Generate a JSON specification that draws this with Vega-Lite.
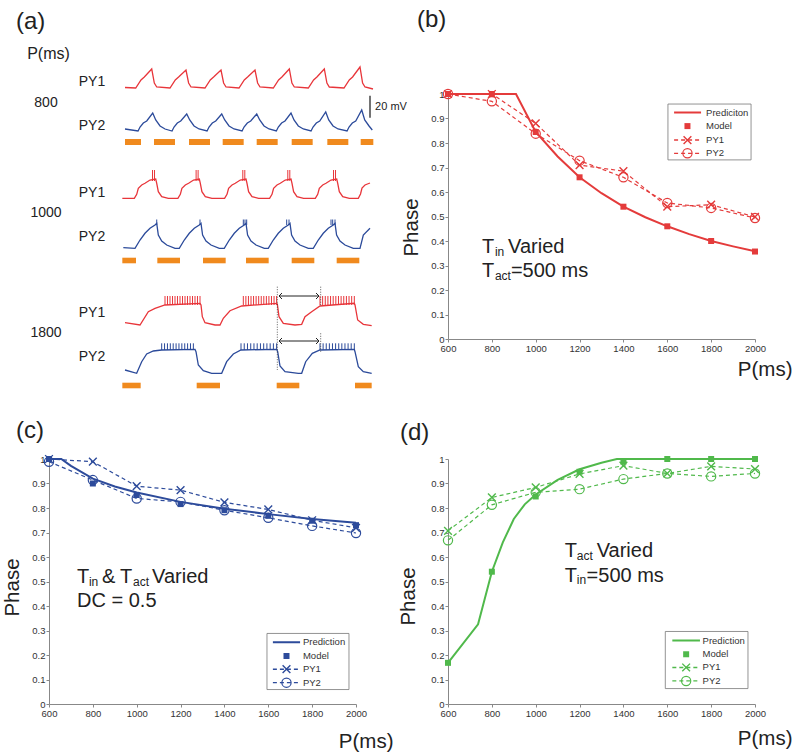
{
"$schema": "https://vega.github.io/schema/vega-lite/v6.json",
"background": "white",
"padding": {"left": 2, "top": 8, "right": 0, "bottom": 0},
"columns": 2,
"bounds": "flush",
"spacing": {"row": 120, "column": 92},
"datasets": {
"traces": [
{"k":"a1","c":"PY1","t":0,"v":251.5},{"k":"a1","c":"PY1","t":268,"v":251},{"k":"a1","c":"PY1","t":400,"v":259},{"k":"a1","c":"PY1","t":483,"v":262},{"k":"a1","c":"PY1","t":668,"v":270},{"k":"a1","c":"PY1","t":733,"v":256},{"k":"a1","c":"PY1","t":793,"v":252},
{"k":"a1","c":"PY1","t":1125,"v":251},{"k":"a1","c":"PY1","t":1257,"v":259},{"k":"a1","c":"PY1","t":1340,"v":262},{"k":"a1","c":"PY1","t":1525,"v":269},{"k":"a1","c":"PY1","t":1590,"v":256},{"k":"a1","c":"PY1","t":1650,"v":252},
{"k":"a1","c":"PY1","t":2000,"v":251},{"k":"a1","c":"PY1","t":2132,"v":259},{"k":"a1","c":"PY1","t":2215,"v":262},{"k":"a1","c":"PY1","t":2400,"v":269},{"k":"a1","c":"PY1","t":2465,"v":256},{"k":"a1","c":"PY1","t":2525,"v":252},
{"k":"a1","c":"PY1","t":2850,"v":251},{"k":"a1","c":"PY1","t":2982,"v":259},{"k":"a1","c":"PY1","t":3065,"v":262},{"k":"a1","c":"PY1","t":3250,"v":269},{"k":"a1","c":"PY1","t":3315,"v":256},{"k":"a1","c":"PY1","t":3375,"v":252},
{"k":"a1","c":"PY1","t":3708,"v":251},{"k":"a1","c":"PY1","t":3840,"v":259},{"k":"a1","c":"PY1","t":3923,"v":262},{"k":"a1","c":"PY1","t":4108,"v":270},{"k":"a1","c":"PY1","t":4173,"v":256},{"k":"a1","c":"PY1","t":4233,"v":252},
{"k":"a1","c":"PY1","t":4583,"v":251},{"k":"a1","c":"PY1","t":4715,"v":259},{"k":"a1","c":"PY1","t":4798,"v":262},{"k":"a1","c":"PY1","t":4983,"v":270},{"k":"a1","c":"PY1","t":5048,"v":256},{"k":"a1","c":"PY1","t":5108,"v":252},
{"k":"a1","c":"PY1","t":5475,"v":251},{"k":"a1","c":"PY1","t":5607,"v":259},{"k":"a1","c":"PY1","t":5690,"v":262},{"k":"a1","c":"PY1","t":5875,"v":272},{"k":"a1","c":"PY1","t":5940,"v":256},{"k":"a1","c":"PY1","t":6000,"v":252},{"k":"a1","c":"PY1","t":6200,"v":250},
{"k":"a2","c":"PY2","t":0,"v":210},{"k":"a2","c":"PY2","t":326,"v":208},{"k":"a2","c":"PY2","t":376,"v":212},{"k":"a2","c":"PY2","t":458,"v":216},{"k":"a2","c":"PY2","t":543,"v":218},{"k":"a2","c":"PY2","t":693,"v":226},{"k":"a2","c":"PY2","t":768,"v":219},{"k":"a2","c":"PY2","t":876,"v":213},{"k":"a2","c":"PY2","t":1001,"v":210},
{"k":"a2","c":"PY2","t":1176,"v":208},{"k":"a2","c":"PY2","t":1226,"v":212},{"k":"a2","c":"PY2","t":1308,"v":216},{"k":"a2","c":"PY2","t":1393,"v":218},{"k":"a2","c":"PY2","t":1543,"v":225},{"k":"a2","c":"PY2","t":1618,"v":219},{"k":"a2","c":"PY2","t":1726,"v":213},{"k":"a2","c":"PY2","t":1851,"v":210},
{"k":"a2","c":"PY2","t":2051,"v":208},{"k":"a2","c":"PY2","t":2101,"v":212},{"k":"a2","c":"PY2","t":2183,"v":216},{"k":"a2","c":"PY2","t":2268,"v":218},{"k":"a2","c":"PY2","t":2418,"v":225},{"k":"a2","c":"PY2","t":2493,"v":219},{"k":"a2","c":"PY2","t":2601,"v":213},{"k":"a2","c":"PY2","t":2726,"v":210},
{"k":"a2","c":"PY2","t":2926,"v":208},{"k":"a2","c":"PY2","t":2976,"v":212},{"k":"a2","c":"PY2","t":3058,"v":216},{"k":"a2","c":"PY2","t":3143,"v":218},{"k":"a2","c":"PY2","t":3293,"v":225},{"k":"a2","c":"PY2","t":3368,"v":219},{"k":"a2","c":"PY2","t":3476,"v":213},{"k":"a2","c":"PY2","t":3601,"v":210},
{"k":"a2","c":"PY2","t":3783,"v":208},{"k":"a2","c":"PY2","t":3833,"v":212},{"k":"a2","c":"PY2","t":3915,"v":216},{"k":"a2","c":"PY2","t":4000,"v":218},{"k":"a2","c":"PY2","t":4150,"v":226},{"k":"a2","c":"PY2","t":4225,"v":219},{"k":"a2","c":"PY2","t":4333,"v":213},{"k":"a2","c":"PY2","t":4458,"v":210},
{"k":"a2","c":"PY2","t":4651,"v":208},{"k":"a2","c":"PY2","t":4701,"v":212},{"k":"a2","c":"PY2","t":4783,"v":216},{"k":"a2","c":"PY2","t":4868,"v":218},{"k":"a2","c":"PY2","t":5018,"v":227},{"k":"a2","c":"PY2","t":5093,"v":219},{"k":"a2","c":"PY2","t":5201,"v":213},{"k":"a2","c":"PY2","t":5326,"v":210},
{"k":"a2","c":"PY2","t":5551,"v":208},{"k":"a2","c":"PY2","t":5601,"v":212},{"k":"a2","c":"PY2","t":5683,"v":216},{"k":"a2","c":"PY2","t":5768,"v":218},{"k":"a2","c":"PY2","t":5918,"v":229},{"k":"a2","c":"PY2","t":5993,"v":219},{"k":"a2","c":"PY2","t":6101,"v":213},{"k":"a2","c":"PY2","t":6182,"v":209},
{"k":"b1","c":"PY1","t":-67,"v":140.7},
{"k":"b1","c":"PY1","t":233,"v":140.7},{"k":"b1","c":"PY1","t":293,"v":144.7},{"k":"b1","c":"PY1","t":333,"v":150.7},{"k":"b1","c":"PY1","t":418,"v":154},{"k":"b1","c":"PY1","t":500,"v":155.7},{"k":"b1","c":"PY1","t":625,"v":159},{"k":"b1","c":"PY1","t":768,"v":160},{"k":"b1","c":"PY1","t":793,"v":155.7},{"k":"b1","c":"PY1","t":833,"v":147.3},{"k":"b1","c":"PY1","t":918,"v":142.3},{"k":"b1","c":"PY1","t":1083,"v":140.7},
{"k":"b1","c":"PY1","t":1323,"v":140.7},{"k":"b1","c":"PY1","t":1383,"v":144.7},{"k":"b1","c":"PY1","t":1423,"v":150.7},{"k":"b1","c":"PY1","t":1508,"v":154},{"k":"b1","c":"PY1","t":1590,"v":155.7},{"k":"b1","c":"PY1","t":1715,"v":159},{"k":"b1","c":"PY1","t":1858,"v":160},{"k":"b1","c":"PY1","t":1883,"v":155.7},{"k":"b1","c":"PY1","t":1923,"v":147.3},{"k":"b1","c":"PY1","t":2008,"v":142.3},{"k":"b1","c":"PY1","t":2173,"v":140.7},
{"k":"b1","c":"PY1","t":2490,"v":140.7},{"k":"b1","c":"PY1","t":2550,"v":144.7},{"k":"b1","c":"PY1","t":2590,"v":150.7},{"k":"b1","c":"PY1","t":2675,"v":154},{"k":"b1","c":"PY1","t":2757,"v":155.7},{"k":"b1","c":"PY1","t":2882,"v":159},{"k":"b1","c":"PY1","t":3025,"v":160},{"k":"b1","c":"PY1","t":3050,"v":155.7},{"k":"b1","c":"PY1","t":3090,"v":147.3},{"k":"b1","c":"PY1","t":3175,"v":142.3},{"k":"b1","c":"PY1","t":3340,"v":140.7},
{"k":"b1","c":"PY1","t":3615,"v":140.7},{"k":"b1","c":"PY1","t":3675,"v":144.7},{"k":"b1","c":"PY1","t":3715,"v":150.7},{"k":"b1","c":"PY1","t":3800,"v":154},{"k":"b1","c":"PY1","t":3882,"v":155.7},{"k":"b1","c":"PY1","t":4007,"v":159},{"k":"b1","c":"PY1","t":4150,"v":160},{"k":"b1","c":"PY1","t":4175,"v":155.7},{"k":"b1","c":"PY1","t":4215,"v":147.3},{"k":"b1","c":"PY1","t":4300,"v":142.3},{"k":"b1","c":"PY1","t":4465,"v":140.7},
{"k":"b1","c":"PY1","t":4758,"v":140.7},{"k":"b1","c":"PY1","t":4818,"v":144.7},{"k":"b1","c":"PY1","t":4858,"v":150.7},{"k":"b1","c":"PY1","t":4943,"v":154},{"k":"b1","c":"PY1","t":5025,"v":155.7},{"k":"b1","c":"PY1","t":5150,"v":159},{"k":"b1","c":"PY1","t":5293,"v":160},{"k":"b1","c":"PY1","t":5318,"v":155.7},{"k":"b1","c":"PY1","t":5358,"v":147.3},{"k":"b1","c":"PY1","t":5443,"v":142.3},{"k":"b1","c":"PY1","t":5608,"v":140.7},
{"k":"b1","c":"PY1","t":5833,"v":140.7},{"k":"b1","c":"PY1","t":5888,"v":145},{"k":"b1","c":"PY1","t":5925,"v":151},{"k":"b1","c":"PY1","t":6000,"v":154},{"k":"b1","c":"PY1","t":6125,"v":156},
{"k":"b2","c":"PY2","t":-42,"v":91.3},
{"k":"b2","c":"PY2","t":250,"v":90.7},{"k":"b2","c":"PY2","t":375,"v":99},{"k":"b2","c":"PY2","t":500,"v":105.7},{"k":"b2","c":"PY2","t":625,"v":110.7},{"k":"b2","c":"PY2","t":750,"v":114},{"k":"b2","c":"PY2","t":793,"v":115.7},{"k":"b2","c":"PY2","t":833,"v":104},{"k":"b2","c":"PY2","t":918,"v":98},{"k":"b2","c":"PY2","t":1043,"v":94},{"k":"b2","c":"PY2","t":1251,"v":90.7},
{"k":"b2","c":"PY2","t":1357,"v":90.7},{"k":"b2","c":"PY2","t":1482,"v":99},{"k":"b2","c":"PY2","t":1607,"v":105.7},{"k":"b2","c":"PY2","t":1732,"v":110.7},{"k":"b2","c":"PY2","t":1857,"v":114},{"k":"b2","c":"PY2","t":1900,"v":115.7},{"k":"b2","c":"PY2","t":1940,"v":104},{"k":"b2","c":"PY2","t":2025,"v":98},{"k":"b2","c":"PY2","t":2150,"v":94},{"k":"b2","c":"PY2","t":2358,"v":90.7},
{"k":"b2","c":"PY2","t":2482,"v":90.7},{"k":"b2","c":"PY2","t":2607,"v":99},{"k":"b2","c":"PY2","t":2732,"v":105.7},{"k":"b2","c":"PY2","t":2857,"v":110.7},{"k":"b2","c":"PY2","t":2982,"v":114},{"k":"b2","c":"PY2","t":3025,"v":115.7},{"k":"b2","c":"PY2","t":3065,"v":104},{"k":"b2","c":"PY2","t":3150,"v":98},{"k":"b2","c":"PY2","t":3275,"v":94},{"k":"b2","c":"PY2","t":3483,"v":90.7},
{"k":"b2","c":"PY2","t":3582,"v":90.7},{"k":"b2","c":"PY2","t":3707,"v":99},{"k":"b2","c":"PY2","t":3832,"v":105.7},{"k":"b2","c":"PY2","t":3957,"v":110.7},{"k":"b2","c":"PY2","t":4082,"v":114},{"k":"b2","c":"PY2","t":4125,"v":115.7},{"k":"b2","c":"PY2","t":4165,"v":104},{"k":"b2","c":"PY2","t":4250,"v":98},{"k":"b2","c":"PY2","t":4375,"v":94},{"k":"b2","c":"PY2","t":4583,"v":90.7},
{"k":"b2","c":"PY2","t":4707,"v":90.7},{"k":"b2","c":"PY2","t":4832,"v":99},{"k":"b2","c":"PY2","t":4957,"v":105.7},{"k":"b2","c":"PY2","t":5082,"v":110.7},{"k":"b2","c":"PY2","t":5207,"v":114},{"k":"b2","c":"PY2","t":5250,"v":115.7},{"k":"b2","c":"PY2","t":5290,"v":104},{"k":"b2","c":"PY2","t":5375,"v":98},{"k":"b2","c":"PY2","t":5500,"v":94},{"k":"b2","c":"PY2","t":5708,"v":90.7},
{"k":"b2","c":"PY2","t":5875,"v":90.7},{"k":"b2","c":"PY2","t":5958,"v":104},{"k":"b2","c":"PY2","t":6125,"v":110.7},
{"k":"c1","c":"PY1","t":0,"v":16.3},{"k":"c1","c":"PY1","t":375,"v":14},{"k":"c1","c":"PY1","t":583,"v":27.3},{"k":"c1","c":"PY1","t":750,"v":30.7},{"k":"c1","c":"PY1","t":1000,"v":34},{"k":"c1","c":"PY1","t":1875,"v":35.7},{"k":"c1","c":"PY1","t":1900,"v":34},{"k":"c1","c":"PY1","t":1933,"v":22.3},{"k":"c1","c":"PY1","t":2000,"v":16.3},{"k":"c1","c":"PY1","t":2250,"v":14},{"k":"c1","c":"PY1","t":2375,"v":14},{"k":"c1","c":"PY1","t":2458,"v":20.7},{"k":"c1","c":"PY1","t":2625,"v":28.3},{"k":"c1","c":"PY1","t":2917,"v":33},{"k":"c1","c":"PY1","t":3792,"v":35.7},{"k":"c1","c":"PY1","t":3808,"v":35},{"k":"c1","c":"PY1","t":3850,"v":22.3},{"k":"c1","c":"PY1","t":3958,"v":15.7},{"k":"c1","c":"PY1","t":4250,"v":14},{"k":"c1","c":"PY1","t":4417,"v":14.7},{"k":"c1","c":"PY1","t":4500,"v":22.3},{"k":"c1","c":"PY1","t":4667,"v":27.3},{"k":"c1","c":"PY1","t":4875,"v":33},{"k":"c1","c":"PY1","t":5733,"v":35.7},{"k":"c1","c":"PY1","t":5750,"v":34},{"k":"c1","c":"PY1","t":5817,"v":19},{"k":"c1","c":"PY1","t":5958,"v":14.7},{"k":"c1","c":"PY1","t":6167,"v":13.3},
{"k":"c2","c":"PY2","t":0,"v":-31},{"k":"c2","c":"PY2","t":292,"v":-34.3},{"k":"c2","c":"PY2","t":417,"v":-22.7},{"k":"c2","c":"PY2","t":542,"v":-15},{"k":"c2","c":"PY2","t":708,"v":-12},{"k":"c2","c":"PY2","t":917,"v":-11},{"k":"c2","c":"PY2","t":1750,"v":-10.3},{"k":"c2","c":"PY2","t":1775,"v":-12.7},{"k":"c2","c":"PY2","t":1833,"v":-26},{"k":"c2","c":"PY2","t":1958,"v":-31.7},{"k":"c2","c":"PY2","t":2167,"v":-34.3},{"k":"c2","c":"PY2","t":2417,"v":-34.3},{"k":"c2","c":"PY2","t":2542,"v":-22.7},{"k":"c2","c":"PY2","t":2708,"v":-15},{"k":"c2","c":"PY2","t":2900,"v":-11},{"k":"c2","c":"PY2","t":3792,"v":-10.3},{"k":"c2","c":"PY2","t":3817,"v":-12.7},{"k":"c2","c":"PY2","t":3875,"v":-27},{"k":"c2","c":"PY2","t":4000,"v":-32.7},{"k":"c2","c":"PY2","t":4333,"v":-34.3},{"k":"c2","c":"PY2","t":4417,"v":-34.3},{"k":"c2","c":"PY2","t":4517,"v":-22.7},{"k":"c2","c":"PY2","t":4683,"v":-14.3},{"k":"c2","c":"PY2","t":4875,"v":-11},{"k":"c2","c":"PY2","t":5733,"v":-10.3},{"k":"c2","c":"PY2","t":5750,"v":-12.7},{"k":"c2","c":"PY2","t":5833,"v":-27.7},{"k":"c2","c":"PY2","t":5958,"v":-32.7},{"k":"c2","c":"PY2","t":6167,"v":-34.3}
],
"spikes": [
{"c":"PY1","t":688,"v":158,"v2":169},{"c":"PY1","t":738,"v":158,"v2":169},{"c":"PY1","t":1778,"v":158,"v2":169},{"c":"PY1","t":1828,"v":158,"v2":169},{"c":"PY1","t":2945,"v":158,"v2":169},{"c":"PY1","t":2995,"v":158,"v2":169},{"c":"PY1","t":4070,"v":158,"v2":169},{"c":"PY1","t":4120,"v":158,"v2":169},{"c":"PY1","t":5213,"v":158,"v2":169},{"c":"PY1","t":5263,"v":158,"v2":169},
{"c":"PY2","t":793,"v":114,"v2":119.5},{"c":"PY2","t":1875,"v":114,"v2":119.5},{"c":"PY2","t":2958,"v":114,"v2":119.5},{"c":"PY2","t":3000,"v":114,"v2":119.5},{"c":"PY2","t":3042,"v":114,"v2":119.5},{"c":"PY2","t":4042,"v":114,"v2":119.5},{"c":"PY2","t":4100,"v":114,"v2":119.5},{"c":"PY2","t":5150,"v":114,"v2":119.5},{"c":"PY2","t":5192,"v":114,"v2":119.5},{"c":"PY2","t":5250,"v":114,"v2":119.5},
{"c":"PY1","t":1000,"v":34,"v2":43},{"c":"PY1","t":1062,"v":34,"v2":43},{"c":"PY1","t":1125,"v":34,"v2":43},{"c":"PY1","t":1188,"v":34,"v2":43},{"c":"PY1","t":1250,"v":34,"v2":43},{"c":"PY1","t":1312,"v":34,"v2":43},{"c":"PY1","t":1375,"v":34,"v2":43},{"c":"PY1","t":1438,"v":34,"v2":43},{"c":"PY1","t":1500,"v":34,"v2":43},{"c":"PY1","t":1562,"v":34,"v2":43},{"c":"PY1","t":1625,"v":34,"v2":43},{"c":"PY1","t":1688,"v":34,"v2":43},{"c":"PY1","t":1750,"v":34,"v2":43},{"c":"PY1","t":1812,"v":34,"v2":43},{"c":"PY1","t":1875,"v":34,"v2":43},
{"c":"PY1","t":2958,"v":34,"v2":43},{"c":"PY1","t":3022,"v":34,"v2":43},{"c":"PY1","t":3086,"v":34,"v2":43},{"c":"PY1","t":3150,"v":34,"v2":43},{"c":"PY1","t":3214,"v":34,"v2":43},{"c":"PY1","t":3278,"v":34,"v2":43},{"c":"PY1","t":3342,"v":34,"v2":43},{"c":"PY1","t":3406,"v":34,"v2":43},{"c":"PY1","t":3470,"v":34,"v2":43},{"c":"PY1","t":3534,"v":34,"v2":43},{"c":"PY1","t":3598,"v":34,"v2":43},{"c":"PY1","t":3662,"v":34,"v2":43},{"c":"PY1","t":3726,"v":34,"v2":43},{"c":"PY1","t":3790,"v":34,"v2":43},
{"c":"PY1","t":4875,"v":34,"v2":43},{"c":"PY1","t":4941,"v":34,"v2":43},{"c":"PY1","t":5007,"v":34,"v2":43},{"c":"PY1","t":5073,"v":34,"v2":43},{"c":"PY1","t":5139,"v":34,"v2":43},{"c":"PY1","t":5205,"v":34,"v2":43},{"c":"PY1","t":5271,"v":34,"v2":43},{"c":"PY1","t":5337,"v":34,"v2":43},{"c":"PY1","t":5403,"v":34,"v2":43},{"c":"PY1","t":5469,"v":34,"v2":43},{"c":"PY1","t":5535,"v":34,"v2":43},{"c":"PY1","t":5601,"v":34,"v2":43},{"c":"PY1","t":5667,"v":34,"v2":43},{"c":"PY1","t":5733,"v":34,"v2":43},
{"c":"PY2","t":917,"v":-11,"v2":-4.3},{"c":"PY2","t":989,"v":-11,"v2":-4.3},{"c":"PY2","t":1061,"v":-11,"v2":-4.3},{"c":"PY2","t":1133,"v":-11,"v2":-4.3},{"c":"PY2","t":1205,"v":-11,"v2":-4.3},{"c":"PY2","t":1277,"v":-11,"v2":-4.3},{"c":"PY2","t":1349,"v":-11,"v2":-4.3},{"c":"PY2","t":1421,"v":-11,"v2":-4.3},{"c":"PY2","t":1493,"v":-11,"v2":-4.3},{"c":"PY2","t":1565,"v":-11,"v2":-4.3},{"c":"PY2","t":1637,"v":-11,"v2":-4.3},{"c":"PY2","t":1709,"v":-11,"v2":-4.3},
{"c":"PY2","t":2900,"v":-11,"v2":-4.3},{"c":"PY2","t":2981,"v":-11,"v2":-4.3},{"c":"PY2","t":3062,"v":-11,"v2":-4.3},{"c":"PY2","t":3143,"v":-11,"v2":-4.3},{"c":"PY2","t":3224,"v":-11,"v2":-4.3},{"c":"PY2","t":3305,"v":-11,"v2":-4.3},{"c":"PY2","t":3386,"v":-11,"v2":-4.3},{"c":"PY2","t":3467,"v":-11,"v2":-4.3},{"c":"PY2","t":3548,"v":-11,"v2":-4.3},{"c":"PY2","t":3629,"v":-11,"v2":-4.3},{"c":"PY2","t":3710,"v":-11,"v2":-4.3},{"c":"PY2","t":3791,"v":-11,"v2":-4.3},
{"c":"PY2","t":4875,"v":-11,"v2":-4.3},{"c":"PY2","t":4953,"v":-11,"v2":-4.3},{"c":"PY2","t":5031,"v":-11,"v2":-4.3},{"c":"PY2","t":5109,"v":-11,"v2":-4.3},{"c":"PY2","t":5187,"v":-11,"v2":-4.3},{"c":"PY2","t":5265,"v":-11,"v2":-4.3},{"c":"PY2","t":5343,"v":-11,"v2":-4.3},{"c":"PY2","t":5421,"v":-11,"v2":-4.3},{"c":"PY2","t":5499,"v":-11,"v2":-4.3},{"c":"PY2","t":5577,"v":-11,"v2":-4.3},{"c":"PY2","t":5655,"v":-11,"v2":-4.3},{"c":"PY2","t":5733,"v":-11,"v2":-4.3}
],
"bars": [
{"t":0,"t2":400,"v":194,"v2":200},{"t":725,"t2":1250,"v":194,"v2":200},{"t":1600,"t2":2125,"v":194,"v2":200},{"t":2442,"t2":2967,"v":194,"v2":200},{"t":3292,"t2":3817,"v":194,"v2":200},{"t":4167,"t2":4692,"v":194,"v2":200},{"t":5058,"t2":5583,"v":194,"v2":200},{"t":5892,"t2":6208,"v":194,"v2":200},
{"t":-67,"t2":275,"v":75.7,"v2":81.3},{"t":808,"t2":1375,"v":75.7,"v2":81.3},{"t":1950,"t2":2517,"v":75.7,"v2":81.3},{"t":3025,"t2":3592,"v":75.7,"v2":81.3},{"t":4167,"t2":4733,"v":75.7,"v2":81.3},{"t":5292,"t2":5858,"v":75.7,"v2":81.3},
{"t":-67,"t2":392,"v":-49.3,"v2":-43.7},{"t":1792,"t2":2375,"v":-49.3,"v2":-43.7},{"t":3792,"t2":4358,"v":-49.3,"v2":-43.7},{"t":5750,"t2":6167,"v":-49.3,"v2":-43.7}
],
"dots": [{"t":3808,"v":52.3,"v2":-31},{"t":4892,"v":52.3,"v2":32.3},{"t":4892,"v":5.7,"v2":-12.7}],
"arrows": [{"t":3850,"t2":4850,"v":43},{"t":3850,"t2":4850,"v":-2}],
"heads": [{"t":3850,"v":43,"dir":"L"},{"t":4850,"v":43,"dir":"R"},{"t":3850,"v":-2,"dir":"L"},{"t":4850,"v":-2,"dir":"R"}],
"sbar": [{"t":6125,"v":243.3,"v2":221.3}],
"alabels": [
{"t":-1912,"v":285.5,"text":"P(ms)","fs":16},
{"t":-1975,"v":236.5,"text":"800","fs":14},{"t":-1975,"v":126,"text":"1000","fs":14},{"t":-1975,"v":5.7,"text":"1800","fs":14},
{"t":-825,"v":257,"text":"PY1","fs":14},{"t":-825,"v":213,"text":"PY2","fs":14},
{"t":-825,"v":146.3,"text":"PY1","fs":14},{"t":-825,"v":102.3,"text":"PY2","fs":14},
{"t":-825,"v":26.3,"text":"PY1","fs":14},{"t":-825,"v":-18.3,"text":"PY2","fs":14},
{"t":6650,"v":232,"text":"20 mV","fs":11}
],
"curves": [
{"p":"b","s":"pred","g":"d","P":600,"y":1},{"p":"b","s":"pred","g":"d","P":910,"y":1},{"p":"b","s":"pred","g":"d","P":1000,"y":0.845},{"p":"b","s":"pred","g":"d","P":1100,"y":0.745},{"p":"b","s":"pred","g":"d","P":1200,"y":0.66},{"p":"b","s":"pred","g":"d","P":1300,"y":0.595},{"p":"b","s":"pred","g":"d","P":1400,"y":0.54},{"p":"b","s":"pred","g":"d","P":1500,"y":0.497},{"p":"b","s":"pred","g":"d","P":1600,"y":0.46},{"p":"b","s":"pred","g":"d","P":1700,"y":0.428},{"p":"b","s":"pred","g":"d","P":1800,"y":0.4},{"p":"b","s":"pred","g":"d","P":1900,"y":0.378},{"p":"b","s":"pred","g":"d","P":2000,"y":0.358},
{"p":"b","s":"model","g":"d","P":600,"y":1},{"p":"b","s":"model","g":"d","P":800,"y":1},{"p":"b","s":"model","g":"d","P":1000,"y":0.845},{"p":"b","s":"model","g":"d","P":1200,"y":0.66},{"p":"b","s":"model","g":"d","P":1400,"y":0.54},{"p":"b","s":"model","g":"d","P":1600,"y":0.46},{"p":"b","s":"model","g":"d","P":1800,"y":0.4},{"p":"b","s":"model","g":"d","P":2000,"y":0.357},
{"p":"b","s":"py1","g":"d","P":600,"y":1},{"p":"b","s":"py1","g":"d","P":800,"y":1},{"p":"b","s":"py1","g":"d","P":1000,"y":0.88},{"p":"b","s":"py1","g":"d","P":1200,"y":0.71},{"p":"b","s":"py1","g":"d","P":1400,"y":0.685},{"p":"b","s":"py1","g":"d","P":1600,"y":0.54},{"p":"b","s":"py1","g":"d","P":1800,"y":0.548},{"p":"b","s":"py1","g":"d","P":2000,"y":0.498},
{"p":"b","s":"py2","g":"d","P":600,"y":1},{"p":"b","s":"py2","g":"d","P":800,"y":0.97},{"p":"b","s":"py2","g":"d","P":1000,"y":0.838},{"p":"b","s":"py2","g":"d","P":1200,"y":0.728},{"p":"b","s":"py2","g":"d","P":1400,"y":0.66},{"p":"b","s":"py2","g":"d","P":1600,"y":0.555},{"p":"b","s":"py2","g":"d","P":1800,"y":0.535},{"p":"b","s":"py2","g":"d","P":2000,"y":0.494},
{"p":"b","s":"model","g":"l","P":1692,"y":0.869},{"p":"b","s":"py1","g":"l","P":1692,"y":0.812},{"p":"b","s":"py2","g":"l","P":1692,"y":0.758},
{"p":"c","s":"pred","g":"d","P":600,"y":1},{"p":"c","s":"pred","g":"d","P":656,"y":1},{"p":"c","s":"pred","g":"d","P":700,"y":0.972},{"p":"c","s":"pred","g":"d","P":800,"y":0.92},{"p":"c","s":"pred","g":"d","P":900,"y":0.888},{"p":"c","s":"pred","g":"d","P":1000,"y":0.863},{"p":"c","s":"pred","g":"d","P":1200,"y":0.825},{"p":"c","s":"pred","g":"d","P":1400,"y":0.797},{"p":"c","s":"pred","g":"d","P":1600,"y":0.775},{"p":"c","s":"pred","g":"d","P":1800,"y":0.755},{"p":"c","s":"pred","g":"d","P":2000,"y":0.74},
{"p":"c","s":"model","g":"d","P":600,"y":1},{"p":"c","s":"model","g":"d","P":800,"y":0.9},{"p":"c","s":"model","g":"d","P":1000,"y":0.853},{"p":"c","s":"model","g":"d","P":1200,"y":0.816},{"p":"c","s":"model","g":"d","P":1400,"y":0.791},{"p":"c","s":"model","g":"d","P":1600,"y":0.768},{"p":"c","s":"model","g":"d","P":1800,"y":0.748},{"p":"c","s":"model","g":"d","P":2000,"y":0.73},
{"p":"c","s":"py1","g":"d","P":600,"y":1},{"p":"c","s":"py1","g":"d","P":800,"y":0.989},{"p":"c","s":"py1","g":"d","P":1000,"y":0.889},{"p":"c","s":"py1","g":"d","P":1200,"y":0.873},{"p":"c","s":"py1","g":"d","P":1400,"y":0.823},{"p":"c","s":"py1","g":"d","P":1600,"y":0.794},{"p":"c","s":"py1","g":"d","P":1800,"y":0.75},{"p":"c","s":"py1","g":"d","P":2000,"y":0.719},
{"p":"c","s":"py2","g":"d","P":600,"y":0.989},{"p":"c","s":"py2","g":"d","P":800,"y":0.914},{"p":"c","s":"py2","g":"d","P":1000,"y":0.839},{"p":"c","s":"py2","g":"d","P":1200,"y":0.825},{"p":"c","s":"py2","g":"d","P":1400,"y":0.791},{"p":"c","s":"py2","g":"d","P":1600,"y":0.76},{"p":"c","s":"py2","g":"d","P":1800,"y":0.727},{"p":"c","s":"py2","g":"d","P":2000,"y":0.698},
{"p":"c","s":"model","g":"l","P":1683,"y":0.196},{"p":"c","s":"py1","g":"l","P":1683,"y":0.142},{"p":"c","s":"py2","g":"l","P":1683,"y":0.087},
{"p":"d","s":"pred","g":"d","P":600,"y":0.168},{"p":"d","s":"pred","g":"d","P":737,"y":0.325},{"p":"d","s":"pred","g":"d","P":800,"y":0.54},{"p":"d","s":"pred","g":"d","P":850,"y":0.66},{"p":"d","s":"pred","g":"d","P":900,"y":0.755},{"p":"d","s":"pred","g":"d","P":950,"y":0.815},{"p":"d","s":"pred","g":"d","P":1000,"y":0.855},{"p":"d","s":"pred","g":"d","P":1100,"y":0.915},{"p":"d","s":"pred","g":"d","P":1200,"y":0.958},{"p":"d","s":"pred","g":"d","P":1300,"y":0.985},{"p":"d","s":"pred","g":"d","P":1370,"y":1},{"p":"d","s":"pred","g":"d","P":2000,"y":1},
{"p":"d","s":"model","g":"d","P":600,"y":0.168},{"p":"d","s":"model","g":"d","P":800,"y":0.54},{"p":"d","s":"model","g":"d","P":1000,"y":0.847},{"p":"d","s":"model","g":"d","P":1200,"y":0.948},{"p":"d","s":"model","g":"d","P":1400,"y":0.989},{"p":"d","s":"model","g":"d","P":1600,"y":1},{"p":"d","s":"model","g":"d","P":1800,"y":1},{"p":"d","s":"model","g":"d","P":2000,"y":1},
{"p":"d","s":"py1","g":"d","P":600,"y":0.707},{"p":"d","s":"py1","g":"d","P":800,"y":0.843},{"p":"d","s":"py1","g":"d","P":1000,"y":0.884},{"p":"d","s":"py1","g":"d","P":1200,"y":0.939},{"p":"d","s":"py1","g":"d","P":1400,"y":0.973},{"p":"d","s":"py1","g":"d","P":1600,"y":0.941},{"p":"d","s":"py1","g":"d","P":1800,"y":0.97},{"p":"d","s":"py1","g":"d","P":2000,"y":0.959},
{"p":"d","s":"py2","g":"d","P":600,"y":0.668},{"p":"d","s":"py2","g":"d","P":800,"y":0.813},{"p":"d","s":"py2","g":"d","P":1000,"y":0.864},{"p":"d","s":"py2","g":"d","P":1200,"y":0.877},{"p":"d","s":"py2","g":"d","P":1400,"y":0.918},{"p":"d","s":"py2","g":"d","P":1600,"y":0.941},{"p":"d","s":"py2","g":"d","P":1800,"y":0.929},{"p":"d","s":"py2","g":"d","P":2000,"y":0.941},
{"p":"d","s":"model","g":"l","P":1686,"y":0.203},{"p":"d","s":"py1","g":"l","P":1686,"y":0.149},{"p":"d","s":"py2","g":"l","P":1686,"y":0.094}
],
"legbox": [
{"p":"b","P":1603,"P2":1982,"y":0.731,"y2":0.959},
{"p":"c","P":1594,"P2":1968,"y":0.059,"y2":0.288},
{"p":"d","P":1591,"P2":1968,"y":0.063,"y2":0.296}
],
"legline": [
{"p":"b","s":"pred","P":1631,"P2":1754,"y":0.924},{"p":"b","s":"py1","P":1631,"P2":1754,"y":0.812},{"p":"b","s":"py2","P":1631,"P2":1754,"y":0.758},
{"p":"c","s":"pred","P":1621,"P2":1745,"y":0.252},{"p":"c","s":"py1","P":1621,"P2":1745,"y":0.142},{"p":"c","s":"py2","P":1621,"P2":1745,"y":0.087},
{"p":"d","s":"pred","P":1623,"P2":1749,"y":0.259},{"p":"d","s":"py1","P":1623,"P2":1749,"y":0.149},{"p":"d","s":"py2","P":1623,"P2":1749,"y":0.094}
],
"legtext": [
{"p":"b","P":1777,"y":0.924,"text":"Prediciton"},{"p":"b","P":1777,"y":0.869,"text":"Model"},{"p":"b","P":1777,"y":0.812,"text":"PY1"},{"p":"b","P":1777,"y":0.758,"text":"PY2"},
{"p":"c","P":1758,"y":0.252,"text":"Prediction"},{"p":"c","P":1758,"y":0.196,"text":"Model"},{"p":"c","P":1758,"y":0.142,"text":"PY1"},{"p":"c","P":1758,"y":0.087,"text":"PY2"},
{"p":"d","P":1761,"y":0.259,"text":"Prediction"},{"p":"d","P":1761,"y":0.203,"text":"Model"},{"p":"d","P":1761,"y":0.149,"text":"PY1"},{"p":"d","P":1761,"y":0.094,"text":"PY2"}
],
"ann": [
{"p":"b","P":755,"y":0.351,"text":"T","fs":20},{"p":"b","P":814,"y":0.339,"text":"in","fs":12},{"p":"b","P":874,"y":0.351,"text":"Varied","fs":20},
{"p":"b","P":755,"y":0.253,"text":"T","fs":20},{"p":"b","P":814,"y":0.241,"text":"act","fs":12},{"p":"b","P":887,"y":0.253,"text":"=500 ms","fs":20},
{"p":"c","P":728,"y":0.492,"text":"T","fs":20},{"p":"c","P":782,"y":0.48,"text":"in","fs":12},{"p":"c","P":842,"y":0.492,"text":"&","fs":20},{"p":"c","P":924,"y":0.492,"text":"T","fs":20},{"p":"c","P":983,"y":0.48,"text":"act","fs":12},{"p":"c","P":1070,"y":0.492,"text":"Varied","fs":20},
{"p":"c","P":728,"y":0.394,"text":"DC = 0.5","fs":20},
{"p":"d","P":1132,"y":0.599,"text":"T","fs":20},{"p":"d","P":1187,"y":0.587,"text":"act","fs":12},{"p":"d","P":1278,"y":0.599,"text":"Varied","fs":20},
{"p":"d","P":1132,"y":0.5,"text":"T","fs":20},{"p":"d","P":1187,"y":0.488,"text":"in","fs":12},{"p":"d","P":1232,"y":0.5,"text":"=500 ms","fs":20}
]
},
"concat": [
{
"width": 307, "height": 245,
"title": {"text": "(a)", "anchor": "start", "frame": "group", "dx": -33, "offset": -7, "fontSize": 24, "fontWeight": "normal", "baseline": "alphabetic", "color": "#222"},
"encoding": {
"x": {"field": "t", "type": "quantitative", "scale": {"domain": [-1900, 5775], "nice": false, "zero": false}, "axis": null},
"y": {"field": "v", "type": "quantitative", "scale": {"domain": [0, 245], "nice": false, "zero": false}, "axis": null}
},
"layer": [
{"data": {"name": "bars"}, "mark": {"type": "rect", "color": "#f08a1e"}, "encoding": {"x2": {"field": "t2"}, "y2": {"field": "v2"}}},
{"data": {"name": "traces"}, "mark": {"type": "line", "strokeWidth": 1.3, "clip": false}, "encoding": {"detail": {"field": "k", "type": "nominal"}, "color": {"field": "c", "type": "nominal", "scale": {"domain": ["PY1", "PY2"], "range": ["#e8353a", "#2b4a9a"]}, "legend": null}}},
{"data": {"name": "spikes"}, "mark": {"type": "rule", "strokeWidth": 1}, "encoding": {"y2": {"field": "v2"}, "color": {"field": "c", "type": "nominal", "scale": {"domain": ["PY1", "PY2"], "range": ["#e8353a", "#2b4a9a"]}, "legend": null}}},
{"data": {"name": "dots"}, "mark": {"type": "rule", "color": "#333", "strokeWidth": 0.8, "strokeDash": [1, 1.5]}, "encoding": {"y2": {"field": "v2"}}},
{"data": {"name": "arrows"}, "mark": {"type": "rule", "color": "#222", "strokeWidth": 1}, "encoding": {"x2": {"field": "t2"}}},
{"data": {"name": "heads"}, "mark": {"type": "point", "filled": false, "color": "#222", "strokeWidth": 1, "size": 36, "opacity": 1}, "encoding": {"shape": {"field": "dir", "type": "nominal", "scale": {"domain": ["L", "R"], "range": ["M1,-1L0,0L1,1", "M-1,-1L0,0L-1,1"]}, "legend": null}}},
{"data": {"name": "sbar"}, "mark": {"type": "rule", "color": "#444", "strokeWidth": 1.5}, "encoding": {"y2": {"field": "v2"}}},
{"data": {"name": "alabels"}, "mark": {"type": "text", "align": "center", "baseline": "middle", "color": "#222"}, "encoding": {"text": {"field": "text"}, "size": {"field": "fs", "type": "quantitative", "scale": null}}}
]
},
{
"width": 307, "height": 245,
"title": {"text": "(b)", "anchor": "start", "frame": "group", "dx": -31, "offset": 35.5, "fontSize": 24, "fontWeight": "normal", "baseline": "alphabetic", "color": "#222"},
"encoding": {
"x": {"field": "P", "type": "quantitative", "scale": {"domain": [600, 2000], "nice": false, "zero": false}, "axis": {"title": "P(ms)", "values": [600, 800, 1000, 1200, 1400, 1600, 1800, 2000], "format": "d", "titleX": 344, "titleY": 30, "titleAlign": "right", "titleBaseline": "middle", "titleAngle": 0}},
"y": {"field": "y", "type": "quantitative", "scale": {"domain": [0, 1], "nice": false, "zero": false}, "axis": {"title": "Phase", "values": [0, 0.1, 0.2, 0.3, 0.4, 0.5, 0.6, 0.7, 0.8, 0.9, 1], "format": ".1~f", "titleX": -37, "titleY": 133, "titleAlign": "center", "titleBaseline": "middle", "titleAngle": -90}}
},
"layer": [
{"data": {"name": "curves"}, "transform": [{"filter": "datum.p=='b' && datum.g=='d' && datum.s=='pred'"}], "mark": {"type": "line", "color": "#e43b3b", "strokeWidth": 2}},
{"data": {"name": "curves"}, "transform": [{"filter": "datum.p=='b' && datum.g=='d' && datum.s=='py1'"}], "mark": {"type": "line", "color": "#e43b3b", "strokeWidth": 1.2, "strokeDash": [4, 3]}},
{"data": {"name": "curves"}, "transform": [{"filter": "datum.p=='b' && datum.g=='d' && datum.s=='py2'"}], "mark": {"type": "line", "color": "#e43b3b", "strokeWidth": 1.2, "strokeDash": [4, 3]}},
{"data": {"name": "legbox"}, "transform": [{"filter": "datum.p=='b'"}], "mark": {"type": "rect", "fill": "white", "stroke": "#777", "strokeWidth": 0.8}, "encoding": {"x2": {"field": "P2"}, "y2": {"field": "y2"}}},
{"data": {"name": "legline"}, "transform": [{"filter": "datum.p=='b'"}], "mark": {"type": "rule", "color": "#e43b3b"}, "encoding": {"x2": {"field": "P2"}, "strokeDash": {"field": "s", "type": "nominal", "scale": {"domain": ["pred", "py1", "py2"], "range": [[1, 0], [4, 3], [4, 3]]}, "legend": null}, "strokeWidth": {"field": "s", "type": "nominal", "scale": {"domain": ["pred", "py1", "py2"], "range": [2, 1.2, 1.2]}, "legend": null}}},
{"data": {"name": "curves"}, "transform": [{"filter": "datum.p=='b' && datum.s=='model'"}], "mark": {"type": "point", "shape": "square", "filled": true, "size": 36, "color": "#e43b3b", "opacity": 1}},
{"data": {"name": "curves"}, "transform": [{"filter": "datum.p=='b' && datum.s=='py1'"}], "mark": {"type": "point", "shape": "M-1,-1L1,1M-1,1L1,-1", "filled": false, "size": 60, "strokeWidth": 1.4, "color": "#e43b3b", "opacity": 1}},
{"data": {"name": "curves"}, "transform": [{"filter": "datum.p=='b' && datum.s=='py2'"}], "mark": {"type": "point", "shape": "circle", "filled": false, "size": 85, "strokeWidth": 1.2, "color": "#e43b3b", "opacity": 1}},
{"data": {"name": "legtext"}, "transform": [{"filter": "datum.p=='b'"}], "mark": {"type": "text", "align": "left", "baseline": "middle", "fontSize": 9.5, "color": "#333"}, "encoding": {"text": {"field": "text"}}},
{"data": {"name": "ann"}, "transform": [{"filter": "datum.p=='b'"}], "mark": {"type": "text", "align": "left", "baseline": "alphabetic", "color": "#222"}, "encoding": {"text": {"field": "text"}, "size": {"field": "fs", "type": "quantitative", "scale": null}}}
]
},
{
"width": 307, "height": 245,
"title": {"text": "(c)", "anchor": "start", "frame": "group", "dx": -33, "offset": -10, "fontSize": 24, "fontWeight": "normal", "baseline": "alphabetic", "color": "#222"},
"encoding": {
"x": {"field": "P", "type": "quantitative", "scale": {"domain": [600, 2000], "nice": false, "zero": false}, "axis": {"title": "P(ms)", "values": [600, 800, 1000, 1200, 1400, 1600, 1800, 2000], "format": "d", "titleX": 344, "titleY": 37, "titleAlign": "right", "titleBaseline": "middle", "titleAngle": 0}},
"y": {"field": "y", "type": "quantitative", "scale": {"domain": [0, 1], "nice": false, "zero": false}, "axis": {"title": "Phase", "values": [0, 0.1, 0.2, 0.3, 0.4, 0.5, 0.6, 0.7, 0.8, 0.9, 1], "format": ".1~f", "titleX": -37, "titleY": 128, "titleAlign": "center", "titleBaseline": "middle", "titleAngle": -90}}
},
"layer": [
{"data": {"name": "curves"}, "transform": [{"filter": "datum.p=='c' && datum.g=='d' && datum.s=='pred'"}], "mark": {"type": "line", "color": "#2d4b9b", "strokeWidth": 2}},
{"data": {"name": "curves"}, "transform": [{"filter": "datum.p=='c' && datum.g=='d' && datum.s=='py1'"}], "mark": {"type": "line", "color": "#2d4b9b", "strokeWidth": 1.2, "strokeDash": [4, 3]}},
{"data": {"name": "curves"}, "transform": [{"filter": "datum.p=='c' && datum.g=='d' && datum.s=='py2'"}], "mark": {"type": "line", "color": "#2d4b9b", "strokeWidth": 1.2, "strokeDash": [4, 3]}},
{"data": {"name": "legbox"}, "transform": [{"filter": "datum.p=='c'"}], "mark": {"type": "rect", "fill": "white", "stroke": "#777", "strokeWidth": 0.8}, "encoding": {"x2": {"field": "P2"}, "y2": {"field": "y2"}}},
{"data": {"name": "legline"}, "transform": [{"filter": "datum.p=='c'"}], "mark": {"type": "rule", "color": "#2d4b9b"}, "encoding": {"x2": {"field": "P2"}, "strokeDash": {"field": "s", "type": "nominal", "scale": {"domain": ["pred", "py1", "py2"], "range": [[1, 0], [4, 3], [4, 3]]}, "legend": null}, "strokeWidth": {"field": "s", "type": "nominal", "scale": {"domain": ["pred", "py1", "py2"], "range": [2, 1.2, 1.2]}, "legend": null}}},
{"data": {"name": "curves"}, "transform": [{"filter": "datum.p=='c' && datum.s=='model'"}], "mark": {"type": "point", "shape": "square", "filled": true, "size": 36, "color": "#2d4b9b", "opacity": 1}},
{"data": {"name": "curves"}, "transform": [{"filter": "datum.p=='c' && datum.s=='py1'"}], "mark": {"type": "point", "shape": "M-1,-1L1,1M-1,1L1,-1", "filled": false, "size": 60, "strokeWidth": 1.4, "color": "#2d4b9b", "opacity": 1}},
{"data": {"name": "curves"}, "transform": [{"filter": "datum.p=='c' && datum.s=='py2'"}], "mark": {"type": "point", "shape": "circle", "filled": false, "size": 85, "strokeWidth": 1.2, "color": "#2d4b9b", "opacity": 1}},
{"data": {"name": "legtext"}, "transform": [{"filter": "datum.p=='c'"}], "mark": {"type": "text", "align": "left", "baseline": "middle", "fontSize": 9.5, "color": "#333"}, "encoding": {"text": {"field": "text"}}},
{"data": {"name": "ann"}, "transform": [{"filter": "datum.p=='c'"}], "mark": {"type": "text", "align": "left", "baseline": "alphabetic", "color": "#222"}, "encoding": {"text": {"field": "text"}, "size": {"field": "fs", "type": "quantitative", "scale": null}}}
]
},
{
"width": 307, "height": 245,
"title": {"text": "(d)", "anchor": "start", "frame": "group", "dx": -48, "offset": -10, "fontSize": 24, "fontWeight": "normal", "baseline": "alphabetic", "color": "#222"},
"encoding": {
"x": {"field": "P", "type": "quantitative", "scale": {"domain": [600, 2000], "nice": false, "zero": false}, "axis": {"title": "P(ms)", "values": [600, 800, 1000, 1200, 1400, 1600, 1800, 2000], "format": "d", "titleX": 344, "titleY": 34.5, "titleAlign": "right", "titleBaseline": "middle", "titleAngle": 0}},
"y": {"field": "y", "type": "quantitative", "scale": {"domain": [0, 1], "nice": false, "zero": false}, "axis": {"title": "Phase", "values": [0, 0.1, 0.2, 0.3, 0.4, 0.5, 0.6, 0.7, 0.8, 0.9, 1], "format": ".1~f", "titleX": -40, "titleY": 137, "titleAlign": "center", "titleBaseline": "middle", "titleAngle": -90}}
},
"layer": [
{"data": {"name": "curves"}, "transform": [{"filter": "datum.p=='d' && datum.g=='d' && datum.s=='pred'"}], "mark": {"type": "line", "color": "#50b94b", "strokeWidth": 2}},
{"data": {"name": "curves"}, "transform": [{"filter": "datum.p=='d' && datum.g=='d' && datum.s=='py1'"}], "mark": {"type": "line", "color": "#50b94b", "strokeWidth": 1.2, "strokeDash": [4, 3]}},
{"data": {"name": "curves"}, "transform": [{"filter": "datum.p=='d' && datum.g=='d' && datum.s=='py2'"}], "mark": {"type": "line", "color": "#50b94b", "strokeWidth": 1.2, "strokeDash": [4, 3]}},
{"data": {"name": "legbox"}, "transform": [{"filter": "datum.p=='d'"}], "mark": {"type": "rect", "fill": "white", "stroke": "#777", "strokeWidth": 0.8}, "encoding": {"x2": {"field": "P2"}, "y2": {"field": "y2"}}},
{"data": {"name": "legline"}, "transform": [{"filter": "datum.p=='d'"}], "mark": {"type": "rule", "color": "#50b94b"}, "encoding": {"x2": {"field": "P2"}, "strokeDash": {"field": "s", "type": "nominal", "scale": {"domain": ["pred", "py1", "py2"], "range": [[1, 0], [4, 3], [4, 3]]}, "legend": null}, "strokeWidth": {"field": "s", "type": "nominal", "scale": {"domain": ["pred", "py1", "py2"], "range": [2, 1.2, 1.2]}, "legend": null}}},
{"data": {"name": "curves"}, "transform": [{"filter": "datum.p=='d' && datum.s=='model'"}], "mark": {"type": "point", "shape": "square", "filled": true, "size": 36, "color": "#50b94b", "opacity": 1}},
{"data": {"name": "curves"}, "transform": [{"filter": "datum.p=='d' && datum.s=='py1'"}], "mark": {"type": "point", "shape": "M-1,-1L1,1M-1,1L1,-1", "filled": false, "size": 60, "strokeWidth": 1.4, "color": "#50b94b", "opacity": 1}},
{"data": {"name": "curves"}, "transform": [{"filter": "datum.p=='d' && datum.s=='py2'"}], "mark": {"type": "point", "shape": "circle", "filled": false, "size": 85, "strokeWidth": 1.2, "color": "#50b94b", "opacity": 1}},
{"data": {"name": "legtext"}, "transform": [{"filter": "datum.p=='d'"}], "mark": {"type": "text", "align": "left", "baseline": "middle", "fontSize": 9.5, "color": "#333"}, "encoding": {"text": {"field": "text"}}},
{"data": {"name": "ann"}, "transform": [{"filter": "datum.p=='d'"}], "mark": {"type": "text", "align": "left", "baseline": "alphabetic", "color": "#222"}, "encoding": {"text": {"field": "text"}, "size": {"field": "fs", "type": "quantitative", "scale": null}}}
]
}
],
"config": {
"view": {"stroke": null},
"font": "Liberation Sans",
"title": {"font": "Liberation Sans"},
"text": {"font": "Liberation Sans"},
"axis": {"grid": false, "labelFont": "Liberation Sans", "titleFont": "Liberation Sans", "labelFontSize": 9.5, "labelColor": "#333", "domainColor": "#888", "tickColor": "#888", "tickSize": 3, "labelPadding": 1, "labelFlush": false, "labelOverlap": false, "titleFontSize": 20.5, "titleFontWeight": "normal", "titleColor": "#222"}
}
}
